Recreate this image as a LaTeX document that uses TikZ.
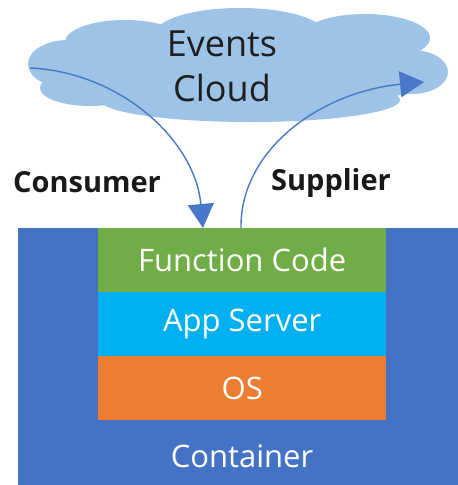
\documentclass[tikz,border=0pt]{standalone}
\usepackage{fontspec}
\setmainfont{Open Sans}
\usetikzlibrary{arrows.meta}
\definecolor{contblue}{HTML}{4472C4}
\definecolor{fcgreen}{HTML}{70AD47}
\definecolor{appcyan}{HTML}{00B0F0}
\definecolor{osorange}{HTML}{ED7D31}
\definecolor{cloudblue}{HTML}{9DC3E6}
\definecolor{arrowblue}{HTML}{4A78C8}
\begin{document}
\begin{tikzpicture}[x=1pt,y=-1pt,
  layer/.style={draw=none,minimum width=288pt,minimum height=64pt,inner sep=0pt,
    text=white,font=\fontsize{31}{34}\selectfont,anchor=north west},
  lbl/.style={font=\bfseries\fontsize{29}{32}\selectfont,text=black!90},
  flow/.style={draw=arrowblue,line width=1.4pt,-{Triangle[length=24pt,width=26pt]}},
  puff/.style={fill=cloudblue,draw=none}]
\useasboundingbox (0,0) rectangle (458,485);
\fill[white] (0,0) rectangle (458,485);
% cloud
\begin{scope}
\fill[puff] (240,70) ellipse [x radius=190, y radius=46];
\fill[puff] (68,64) ellipse [x radius=40, y radius=24];
\fill[puff] (125,42) ellipse [x radius=60, y radius=22];
\fill[puff] (240,34) ellipse [x radius=85, y radius=26];
\fill[puff] (365,38) ellipse [x radius=65, y radius=24];
\fill[puff] (412,72) ellipse [x radius=36, y radius=22];
\fill[puff] (250,100) ellipse [x radius=150, y radius=22];
\fill[puff] (90,88) ellipse [x radius=50, y radius=18];
\end{scope}
\node[font=\fontsize{36}{45}\selectfont,align=center,text=black!88] (events) at (222,66) {Events\\Cloud};
% container
\node[fill=contblue,minimum width=440pt,minimum height=257pt,inner sep=0pt,anchor=north west] (container) at (18,228) {};
\node[layer,fill=fcgreen] (fc) at (98,228) {Function Code};
\node[layer,fill=appcyan] (app) at (98,292) {App Server};
\node[layer,fill=osorange] (os) at (98,356) {OS};
\node[text=white,font=\fontsize{31}{34}\selectfont] (ctext) at (242,456) {Container};
% labels
\node[lbl] (consumer) at (87,182) {Consumer};
\node[lbl] (supplier) at (331,183) {Supplier};
% arrows
\coordinate (cstart) at (30,68);
\coordinate (cend) at (203,228);
\coordinate (sstart) at (241,228);
\coordinate (send) at (424,82);
\draw[flow] (cstart) .. controls (120,72) and (195,140) .. (cend);
\draw[flow] (sstart) .. controls (240,150) and (320,92) .. (send);
\end{tikzpicture}
\end{document}
